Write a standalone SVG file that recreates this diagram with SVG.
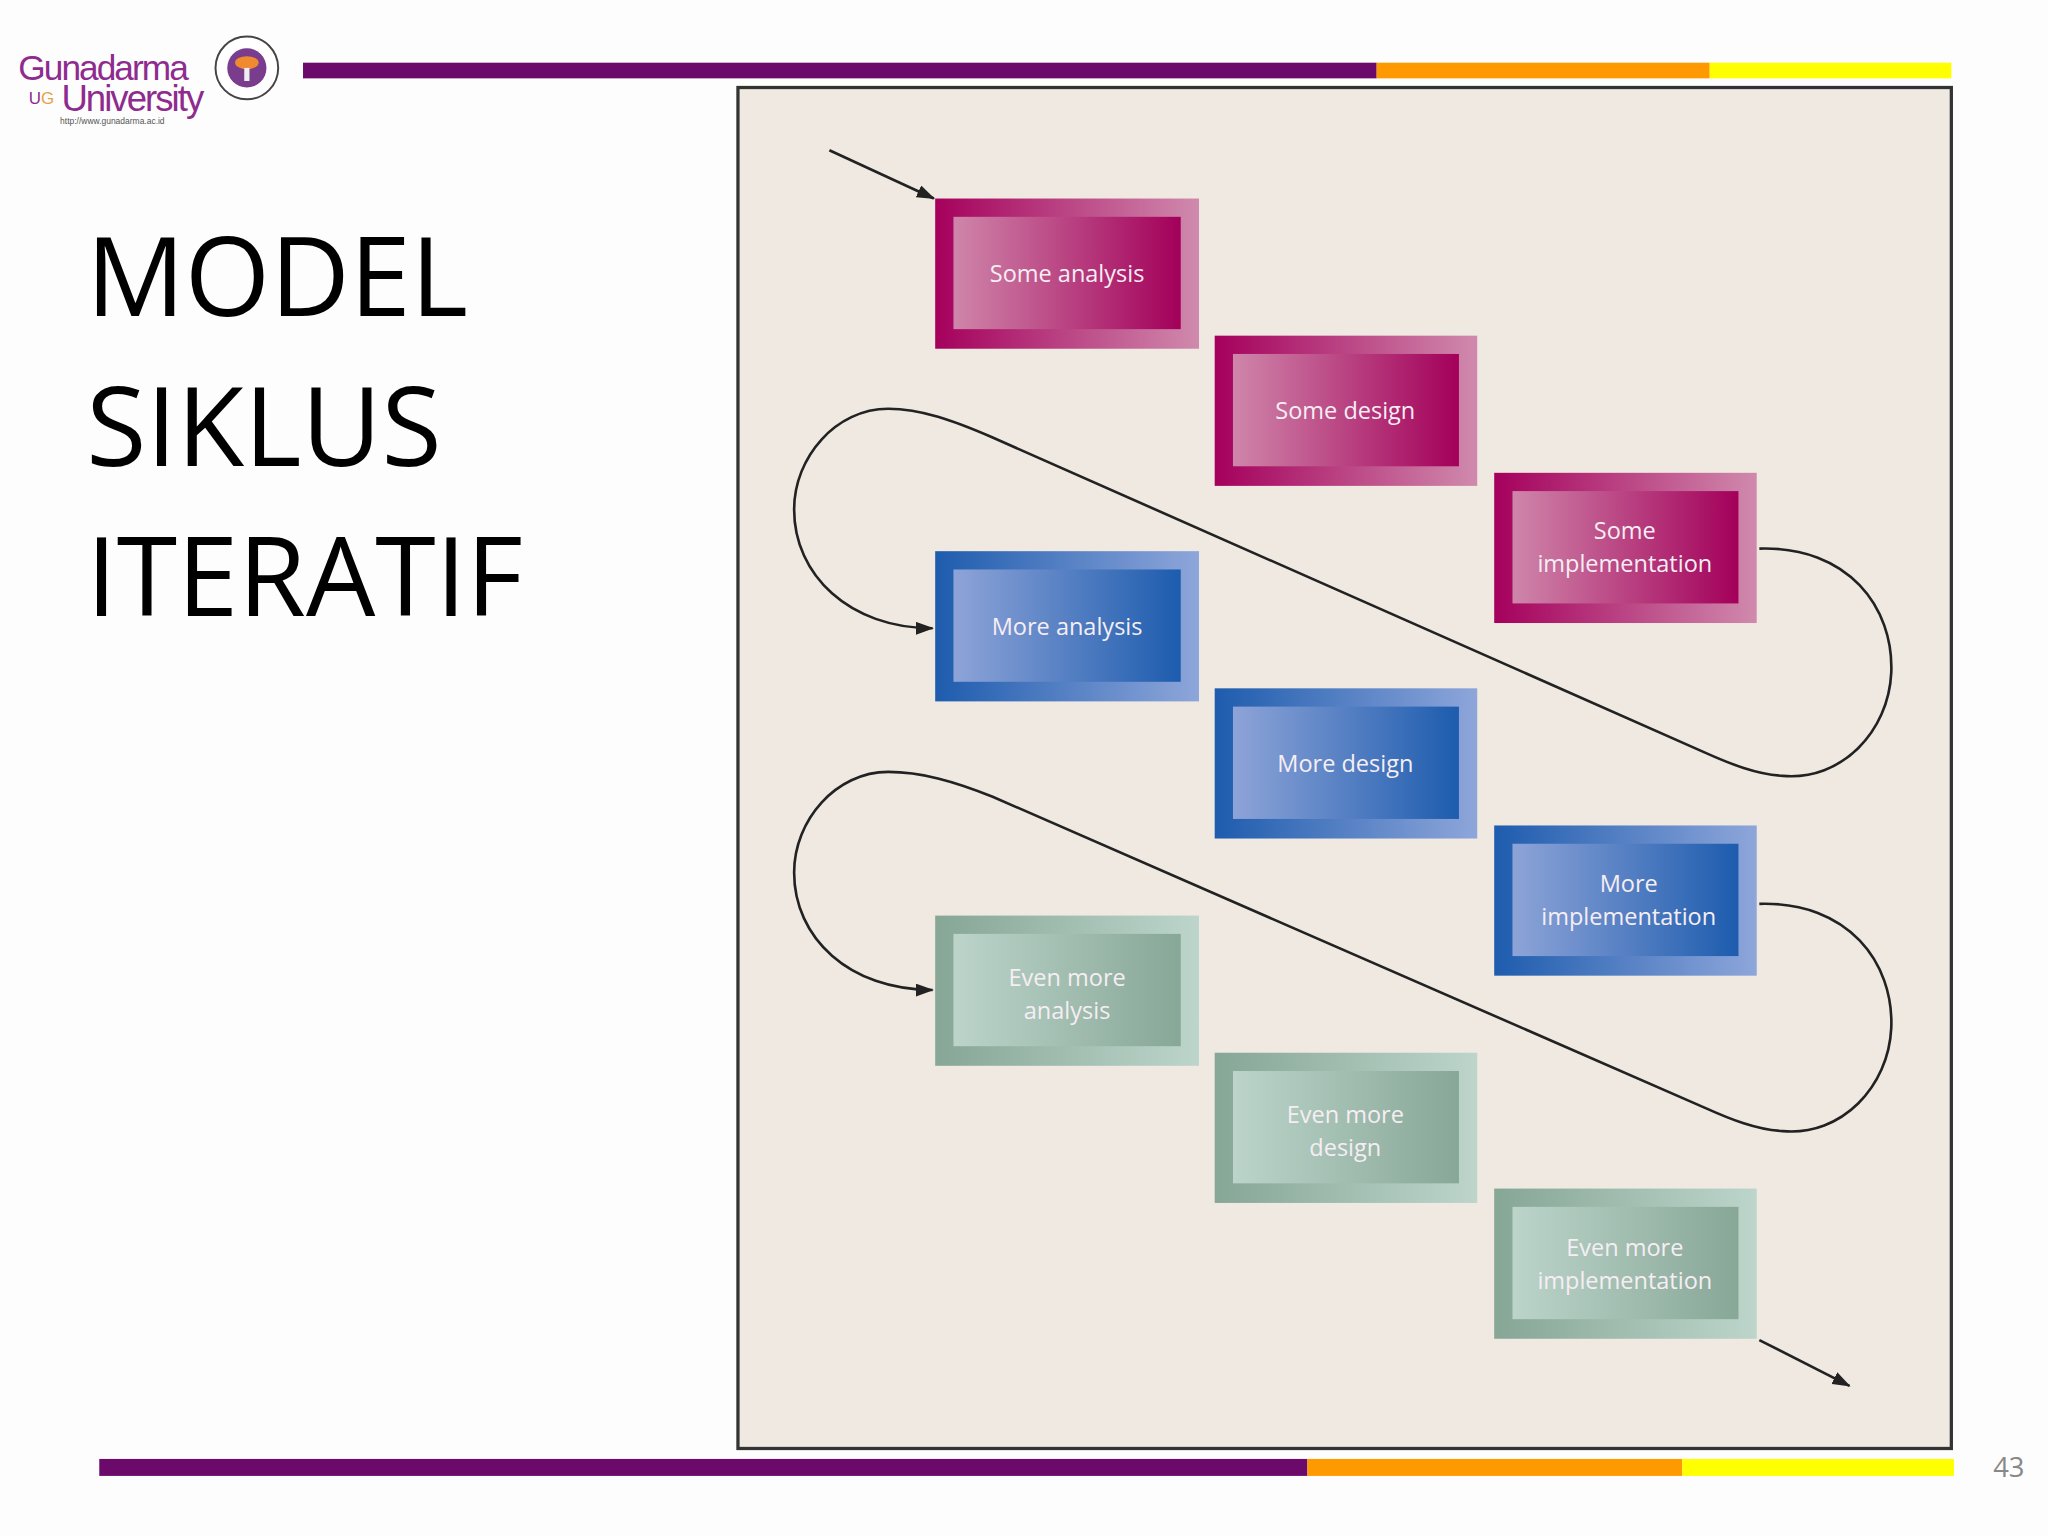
<svg xmlns="http://www.w3.org/2000/svg" width="2048" height="1536" viewBox="0 0 2048 1536">
<style>
.lbl{font-family:"Open Sans","DejaVu Sans",sans-serif;font-size:18px;fill:#f6eef3;text-anchor:middle}
.ttl{font-family:"Open Sans","Liberation Sans",sans-serif;font-size:84px;fill:#000}
.con{fill:none;stroke:#222;stroke-width:2}
</style>
<defs>
<linearGradient id="mO" x1="0" x2="1"><stop offset="0" stop-color="#a5005c"/><stop offset="1" stop-color="#d08aad"/></linearGradient>
<linearGradient id="mI" x1="0" x2="1"><stop offset="0" stop-color="#cf86aa"/><stop offset="1" stop-color="#a3005a"/></linearGradient>
<linearGradient id="bO" x1="0" x2="1"><stop offset="0" stop-color="#1e5cae"/><stop offset="1" stop-color="#8ea6da"/></linearGradient>
<linearGradient id="bI" x1="0" x2="1"><stop offset="0" stop-color="#8ea4d8"/><stop offset="1" stop-color="#1d5cae"/></linearGradient>
<linearGradient id="gO" x1="0" x2="1"><stop offset="0" stop-color="#86a696"/><stop offset="1" stop-color="#bdd5cb"/></linearGradient>
<linearGradient id="gI" x1="0" x2="1"><stop offset="0" stop-color="#bcd4ca"/><stop offset="1" stop-color="#87a797"/></linearGradient>
<marker id="ah" markerWidth="14" markerHeight="10" refX="13" refY="5" orient="auto" markerUnits="userSpaceOnUse"><path d="M0,0 L14,5 L0,10 Z" fill="#222"/></marker>
</defs>
<rect width="2048" height="1536" fill="#fdfdfd"/>
<g transform="scale(1.30612)">
<g id="logo">
<text x="14" y="61" font-family="Liberation Sans,sans-serif" font-size="27" fill="#8e2b8e" letter-spacing="-1.5">Gunadarma</text>
<text x="22" y="80" font-family="Liberation Sans,sans-serif" font-size="13" fill="#8e2b8e">U<tspan fill="#e8a040">G</tspan></text>
<text x="47" y="85" font-family="Liberation Sans,sans-serif" font-size="28" fill="#8e2b8e" letter-spacing="-1.5">University</text>
<text x="46" y="95" font-family="Liberation Sans,sans-serif" font-size="6.5" fill="#555">http://www.gunadarma.ac.id</text>
<circle cx="189" cy="52" r="24" fill="#fff" stroke="#444" stroke-width="1.5"/>
<circle cx="189" cy="52" r="15" fill="#7a3c8c"/>
<ellipse cx="189" cy="48" rx="9" ry="5" fill="#f08a30"/>
<rect x="187" y="52" width="4" height="10" fill="#eee"/>
</g>
<g id="bars">
<rect x="232" y="48" width="822" height="12" fill="#6b0a6b"/>
<rect x="1054" y="48" width="255" height="12" fill="#ff9900"/>
<rect x="1309" y="48" width="185" height="12" fill="#ffff00"/>
<rect x="76" y="1117" width="925" height="13" fill="#6b0a6b"/>
<rect x="1001" y="1117" width="287" height="13" fill="#ff9900"/>
<rect x="1288" y="1117" width="208" height="13" fill="#ffff00"/>
<text x="1538" y="1131" font-family="Open Sans,sans-serif" font-size="21" fill="#888" text-anchor="middle">43</text>
</g>
<g id="title">
<text class="ttl" x="66" y="242">MODEL</text>
<text class="ttl" x="66" y="357">SIKLUS</text>
<text class="ttl" x="66" y="472">ITERATIF</text>
</g>
<rect id="panel" x="565" y="67" width="929" height="1042" fill="#efe9e2" stroke="#333" stroke-width="2.5"/>
<g id="n1"><rect x="716" y="152" width="202" height="115" fill="url(#mO)"/><rect x="730" y="166" width="174" height="86" fill="url(#mI)"/><text class="lbl" x="817" y="216">Some analysis</text></g>
<g id="n2"><rect x="930" y="257" width="201" height="115" fill="url(#mO)"/><rect x="944" y="271" width="173" height="86" fill="url(#mI)"/><text class="lbl" x="1030" y="321">Some design</text></g>
<g id="n3"><rect x="1144" y="362" width="201" height="115" fill="url(#mO)"/><rect x="1158" y="376" width="173" height="86" fill="url(#mI)"/><text class="lbl" x="1244" y="413">Some</text><text class="lbl" x="1244" y="438">implementation</text></g>
<g id="n4"><rect x="716" y="422" width="202" height="115" fill="url(#bO)"/><rect x="730" y="436" width="174" height="86" fill="url(#bI)"/><text class="lbl" x="817" y="486">More analysis</text></g>
<g id="n5"><rect x="930" y="527" width="201" height="115" fill="url(#bO)"/><rect x="944" y="541" width="173" height="86" fill="url(#bI)"/><text class="lbl" x="1030" y="591">More design</text></g>
<g id="n6"><rect x="1144" y="632" width="201" height="115" fill="url(#bO)"/><rect x="1158" y="646" width="173" height="86" fill="url(#bI)"/><text class="lbl" x="1247" y="683">More</text><text class="lbl" x="1247" y="708">implementation</text></g>
<g id="n7"><rect x="716" y="701" width="202" height="115" fill="url(#gO)"/><rect x="730" y="715" width="174" height="86" fill="url(#gI)"/><text class="lbl" x="817" y="755">Even more</text><text class="lbl" x="817" y="780">analysis</text></g>
<g id="n8"><rect x="930" y="806" width="201" height="115" fill="url(#gO)"/><rect x="944" y="820" width="173" height="86" fill="url(#gI)"/><text class="lbl" x="1030" y="860">Even more</text><text class="lbl" x="1030" y="885">design</text></g>
<g id="n9"><rect x="1144" y="910" width="201" height="115" fill="url(#gO)"/><rect x="1158" y="924" width="173" height="86" fill="url(#gI)"/><text class="lbl" x="1244" y="962">Even more</text><text class="lbl" x="1244" y="987">implementation</text></g>
<g id="connectors">
<path class="con" d="M635,115 L715,152" marker-end="url(#ah)"/>
<path class="con" d="M1347,420 C1415,418 1450,465 1448,515 C1446,560 1410,598 1365,594 C1345,593 1325,585 1305,576 L760,335 C730,322 705,313 680,313 C640,313 608,350 608,390 C608,440 650,481 714,481" marker-end="url(#ah)"/>
<path class="con" d="M1347,692 C1415,690 1450,737 1448,787 C1446,832 1410,870 1365,866 C1345,865 1325,857 1305,848 L760,610 C730,598 705,591 680,591 C640,591 608,628 608,668 C608,718 650,758 714,758" marker-end="url(#ah)"/>
<path class="con" d="M1347,1026 L1416,1061" marker-end="url(#ah)"/>
</g>
</g>
</svg>
